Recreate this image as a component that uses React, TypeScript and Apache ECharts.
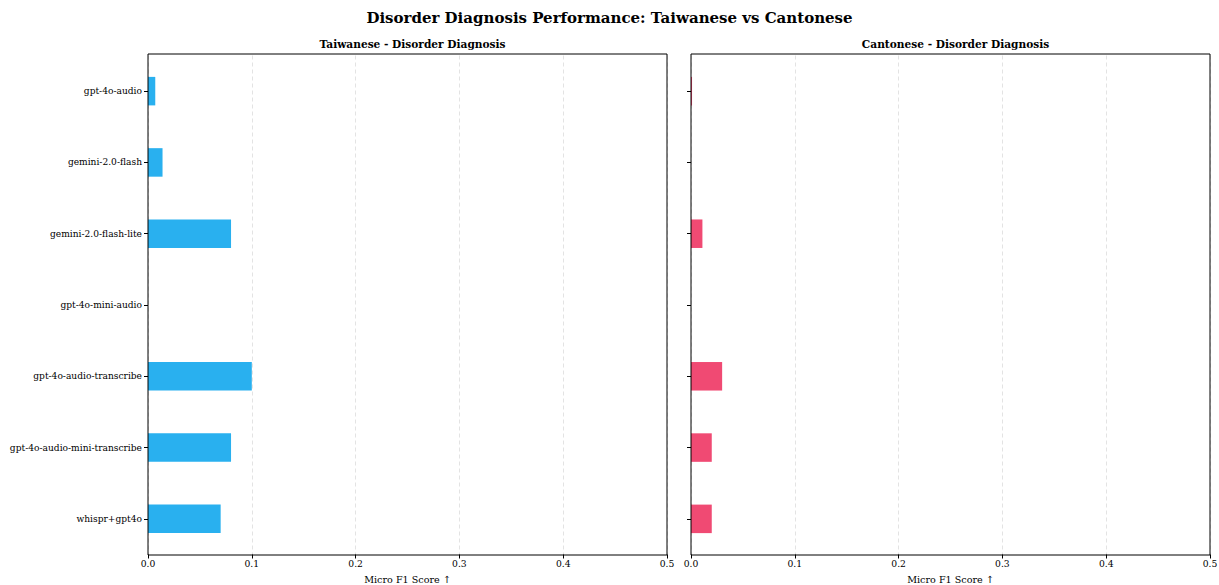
import React, { useEffect, useRef } from "react";
import * as echarts from "echarts";

const models = [
  "gpt-4o-audio",
  "gemini-2.0-flash",
  "gemini-2.0-flash-lite",
  "gpt-4o-mini-audio",
  "gpt-4o-audio-transcribe",
  "gpt-4o-audio-mini-transcribe",
  "whispr+gpt4o",
];
const taiwaneseF1 = [0.007, 0.014, 0.08, 0, 0.1, 0.08, 0.07];
const cantoneseF1 = [0.001, 0, 0.011, 0, 0.03, 0.02, 0.02];
const xTicks = [0, 0.1, 0.2, 0.3, 0.4, 0.5];

const FONT = "DejaVu Serif";

export default function App() {
  const ref = useRef<HTMLDivElement>(null);
  useEffect(() => {
    if (!ref.current) return;
    const chart = echarts.init(ref.current, null, { renderer: "svg" });
    const xAxisBase = (gi: number) => ({
      type: "value",
      gridIndex: gi,
      min: 0,
      max: 0.5,
      interval: 0.1,
      name: "Micro F1 Score ↑",
      nameLocation: "middle",
      nameGap: 19.5,
      nameTextStyle: { fontFamily: FONT, fontSize: 9.6, color: "#000" },
      axisLine: { show: false },
      axisTick: { show: true, length: 4, lineStyle: { color: "#000" } },
      axisLabel: {
        fontFamily: FONT,
        fontSize: 9.2,
        color: "#000",
        margin: 4,
        formatter: (v: number) => (xTicks.includes(Math.round(v * 10) / 10) ? v.toFixed(1) : ""),
      },
      splitLine: { show: true, lineStyle: { color: "#dcdcdc", type: [4, 3], width: 0.8 } },
    });
    const yAxisBase = (gi: number, showLabel: boolean) => ({
      type: "category",
      gridIndex: gi,
      data: models,
      inverse: true,
      axisLine: { show: false },
      axisTick: { show: true, alignWithLabel: true, length: 4, lineStyle: { color: "#000" } },
      axisLabel: {
        show: showLabel,
        fontFamily: FONT,
        fontSize: 9.1,
        color: "#000",
        margin: 6,
      },
      splitLine: { show: false },
    });
    const frame = (x: number, w: number) => ({
      type: "rect",
      shape: { x, y: 54, width: w, height: 501 },
      style: { fill: "none", stroke: "#000", lineWidth: 1 },
      silent: true,
      z: 100,
    });
    chart.setOption({
      animation: false,
      backgroundColor: "#fff",
      title: [
        {
          text: "Disorder Diagnosis Performance: Taiwanese vs Cantonese",
          left: "center",
          top: 5,
          textStyle: { fontFamily: FONT, fontSize: 15, fontWeight: "bold", color: "#000" },
        },
        {
          text: "Taiwanese - Disorder Diagnosis",
          left: 407.5,
          textAlign: "center",
          top: 33,
          textStyle: { fontFamily: FONT, fontSize: 10.6, fontWeight: "bold", color: "#000" },
        },
        {
          text: "Cantonese - Disorder Diagnosis",
          left: 950.5,
          textAlign: "center",
          top: 33,
          textStyle: { fontFamily: FONT, fontSize: 10.6, fontWeight: "bold", color: "#000" },
        },
      ],
      grid: [
        {
          left: 148, right: 552, top: 55.5, bottom: 30.5,
          show: false, containLabel: false, outerBoundsMode: "none",
        },
        {
          left: 691, right: 9, top: 55.5, bottom: 30.5,
          show: false, containLabel: false, outerBoundsMode: "none",
        },
      ],
      xAxis: [xAxisBase(0), xAxisBase(1)],
      yAxis: [yAxisBase(0, true), yAxisBase(1, false)],
      series: [
        {
          type: "bar",
          xAxisIndex: 0,
          yAxisIndex: 0,
          data: taiwaneseF1,
          barWidth: "40%",
          itemStyle: { color: "#29b0ef" },
        },
        {
          type: "bar",
          xAxisIndex: 1,
          yAxisIndex: 1,
          data: cantoneseF1,
          barWidth: "40%",
          itemStyle: { color: "#f04a73" },
        },
      ],
      graphic: [frame(148, 519), frame(691, 519)],
    });
    return () => chart.dispose();
  }, []);
  return <div ref={ref} style={{ width: 1219, height: 585, position: "absolute", left: 0, top: 0 }} />;
}
